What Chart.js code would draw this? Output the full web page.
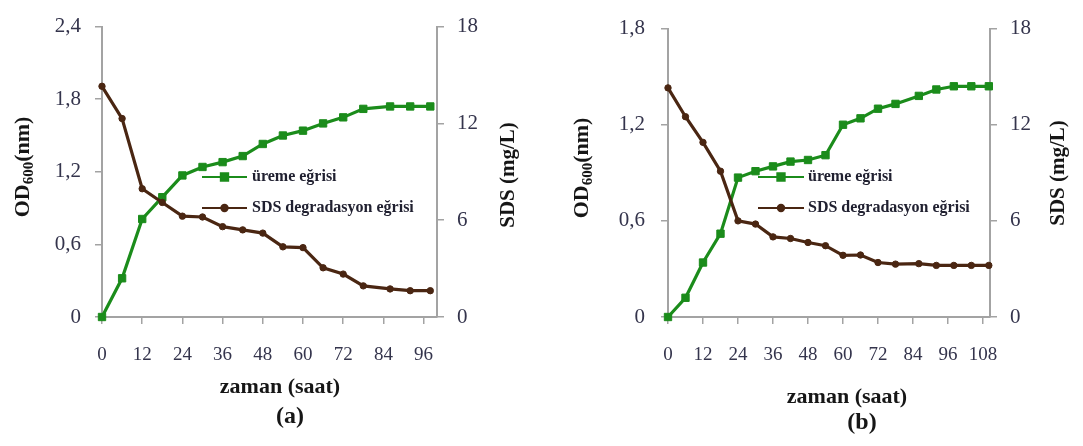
<!DOCTYPE html>
<html>
<head>
<meta charset="utf-8">
<script src="https://cdn.jsdelivr.net/npm/chart.js@4.4.1/dist/chart.umd.min.js"></script>
<style>
  html, body { margin: 0; padding: 0; background: #fff; }
  #wrap { position: relative; width: 1083px; height: 446px; overflow: hidden; }
  canvas { position: absolute; top: 0; }
</style>
</head>
<body>
<div id="wrap">
  <canvas id="chartA" width="545" height="446" style="left:0"></canvas>
  <canvas id="chartB" width="538" height="446" style="left:545px"></canvas>
</div>
<script>
/* ---- data ---- */
const seriesNames = ['üreme eğrisi', 'SDS degradasyon eğrisi'];

// (a)
const hoursA  = [0, 6, 12, 18, 24, 30, 36, 42, 48, 54, 60, 66, 72, 78, 86, 92, 98];
const growthA = [0, 0.32, 0.81, 0.99, 1.17, 1.24, 1.28, 1.33, 1.43, 1.50, 1.54, 1.60, 1.65, 1.72, 1.74, 1.74, 1.74];
const sdsA    = [14.3, 12.3, 7.95, 7.1, 6.25, 6.2, 5.6, 5.4, 5.2, 4.35, 4.3, 3.05, 2.66, 1.93, 1.74, 1.63, 1.63];

// (b)
const hoursB  = [0, 6, 12, 18, 24, 30, 36, 42, 48, 54, 60, 66, 72, 78, 86, 92, 98, 104, 110];
const growthB = [0, 0.12, 0.34, 0.52, 0.87, 0.91, 0.94, 0.97, 0.98, 1.01, 1.20, 1.24, 1.30, 1.33, 1.38, 1.42, 1.44, 1.44, 1.44];
const sdsB    = [14.3, 12.5, 10.9, 9.1, 6.0, 5.8, 5.0, 4.9, 4.65, 4.45, 3.85, 3.87, 3.4, 3.3, 3.33, 3.22, 3.22, 3.22, 3.22];

// tick labels
const hourTicksA = [0, 12, 24, 36, 48, 60, 72, 84, 96];
const hourTicksB = [0, 12, 24, 36, 48, 60, 72, 84, 96, 108];
const odTicksA   = [0, 0.6, 1.2, 1.8, 2.4];
const odTicksB   = [0, 0.6, 1.2, 1.8];
const sdsTicks   = [0, 6, 12, 18];

/* ---- styling ---- */
const GREEN = '#1b8c1b';
const BROWN = '#4a2612';
const AXIS  = '#a3a3a3';
const TICK  = '#34344c';
const INK   = '#161616';
const SERIF = '"Liberation Serif", "Times New Roman", serif';
const H = 446;

const commaFmt = v => String(v).replace('.', ',');

// draws axis titles, captions and the small legend box
const panelText = {
  id: 'panelText',
  afterDraw(chart, args, o) {
    const ctx = chart.ctx;
    ctx.save();
    ctx.fillStyle = INK;
    ctx.textBaseline = 'alphabetic';

    // left title, rotated, with subscript
    const parts = [
      { t: 'OD', f: 'bold 22px ' + SERIF, dy: 0 },
      { t: '600', f: 'bold 15px ' + SERIF, dy: 4 },
      { t: '(nm)', f: 'bold 22px ' + SERIF, dy: 0 }
    ];
    let total = 0;
    parts.forEach(p => { ctx.font = p.f; p.w = ctx.measureText(p.t).width; total += p.w; });
    ctx.save();
    ctx.translate(o.od[0], o.od[1]);
    ctx.rotate(-Math.PI / 2);
    let px = -total / 2;
    parts.forEach(p => { ctx.font = p.f; ctx.textAlign = 'left'; ctx.fillText(p.t, px, 7 + p.dy); px += p.w; });
    ctx.restore();

    // right title
    ctx.save();
    ctx.translate(o.sds[0], o.sds[1]);
    ctx.rotate(-Math.PI / 2);
    ctx.font = 'bold 21px ' + SERIF;
    ctx.textAlign = 'center';
    ctx.textBaseline = 'middle';
    ctx.fillText('SDS (mg/L)', 0, 0);
    ctx.restore();

    // x title and caption
    ctx.textAlign = 'center';
    ctx.textBaseline = 'middle';
    ctx.font = 'bold 22px ' + SERIF;
    ctx.fillText('zaman (saat)', o.xTitle[0], o.xTitle[1]);
    ctx.font = 'bold 24px ' + SERIF;
    ctx.fillText(o.caption, o.cap[0], o.cap[1]);

    // legend
    chart.data.datasets.forEach((ds, i) => {
      const y = o.legend.y[i];
      ctx.strokeStyle = ds.borderColor;
      ctx.lineWidth = 2;
      ctx.beginPath();
      ctx.moveTo(o.legend.x0, y);
      ctx.lineTo(o.legend.x1, y);
      ctx.stroke();
      ctx.fillStyle = ds.backgroundColor;
      Chart.helpers.drawPoint(ctx, {
        pointStyle: ds.pointStyle, radius: ds.pointRadius, rotation: 0, borderWidth: 1
      }, (o.legend.x0 + o.legend.x1) / 2, y);
      ctx.fillStyle = '#202030';
      ctx.font = 'bold 16px ' + SERIF;
      ctx.textAlign = 'left';
      ctx.textBaseline = 'middle';
      ctx.fillText(ds.label, o.legend.tx, y);
    });
    ctx.restore();
  }
};

function makePanel(id, p) {
  const W = document.getElementById(id).width;
  const tickFont = { family: SERIF, size: 21 };
  return new Chart(document.getElementById(id), {
    type: 'line',
    data: {
      datasets: [
        {
          label: seriesNames[0],
          data: p.hours.map((h, i) => ({ x: h, y: p.growth[i] })),
          yAxisID: 'yOD',
          borderColor: GREEN, backgroundColor: GREEN,
          borderWidth: 3.2, pointStyle: 'rect', pointRadius: 5.2,
          pointBorderWidth: 1, tension: 0, clip: false, order: 1
        },
        {
          label: seriesNames[1],
          data: p.hours.map((h, i) => ({ x: h, y: p.sds[i] })),
          yAxisID: 'ySDS',
          borderColor: BROWN, backgroundColor: BROWN,
          borderWidth: 3.2, pointStyle: 'circle', pointRadius: 3.2,
          pointBorderWidth: 1, tension: 0, clip: false, order: 0
        }
      ]
    },
    options: {
      responsive: false, animation: false, devicePixelRatio: 1,
      layout: { padding: { top: p.area.top, left: 0, right: 0, bottom: 0 } },
      plugins: { legend: { display: false }, tooltip: { enabled: false }, panelText: p.text },
      scales: {
        x: {
          type: 'linear', min: 0, max: p.xMax,
          afterBuildTicks: s => { s.ticks = p.hourTicks.map(v => ({ value: v })); },
          afterFit: s => { s.height = H - p.area.bottom; },
          grid: { display: true, drawOnChartArea: false, drawTicks: true, tickLength: 7, color: AXIS, lineWidth: 1.5 },
          border: { display: true, color: AXIS, width: 2 },
          ticks: { color: TICK, font: { family: SERIF, size: 19 }, padding: 20, maxRotation: 0, autoSkip: false }
        },
        yOD: {
          type: 'linear', position: 'left', min: 0, max: p.odTicks[p.odTicks.length - 1],
          afterBuildTicks: s => { s.ticks = p.odTicks.map(v => ({ value: v })); },
          afterFit: s => { s.width = p.area.left; },
          grid: { display: true, drawOnChartArea: false, drawTicks: true, tickLength: 7, color: AXIS, lineWidth: 1.5 },
          border: { display: true, color: AXIS, width: 2 },
          ticks: { color: TICK, font: tickFont, padding: p.padL, callback: commaFmt }
        },
        ySDS: {
          type: 'linear', position: 'right', min: 0, max: 18,
          afterBuildTicks: s => { s.ticks = sdsTicks.map(v => ({ value: v })); },
          afterFit: s => { s.width = W - p.area.right; },
          grid: { display: true, drawOnChartArea: false, drawTicks: true, tickLength: 7, color: AXIS, lineWidth: 1.5 },
          border: { display: true, color: AXIS, width: 2 },
          ticks: { color: TICK, font: tickFont, padding: p.padR }
        }
      }
    },
    plugins: [panelText]
  });
}

makePanel('chartA', {
  hours: hoursA, growth: growthA, sds: sdsA,
  hourTicks: hourTicksA, odTicks: odTicksA, xMax: 100,
  area: { left: 102, right: 437, top: 18, bottom: 317 },
  padL: 14, padR: 13,
  text: {
    od: [22, 167], sds: [509, 175], xTitle: [280, 387], caption: '(a)', cap: [290, 417],
    legend: { x0: 202, x1: 247, tx: 252, y: [177, 208] }
  }
});

makePanel('chartB', {
  hours: hoursB, growth: growthB, sds: sdsB,
  hourTicks: hourTicksB, odTicks: odTicksB, xMax: 110.4,
  area: { left: 123, right: 445, top: 15, bottom: 317 },
  padL: 16, padR: 13,
  text: {
    od: [36, 168], sds: [514, 173], xTitle: [302, 397], caption: '(b)', cap: [317, 423],
    legend: { x0: 213, x1: 259, tx: 263, y: [177, 208] }
  }
});
</script>
</body>
</html>
